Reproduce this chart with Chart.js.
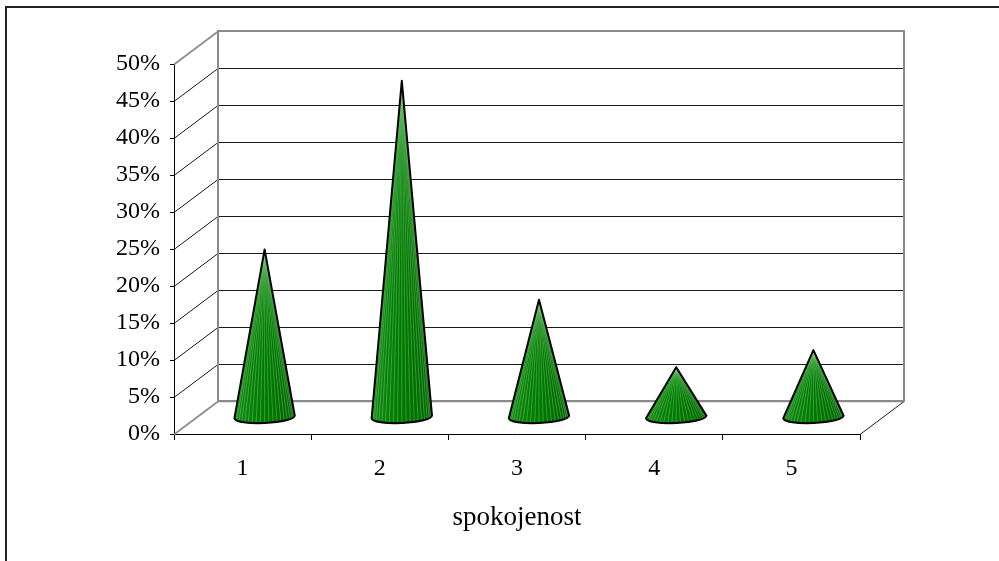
<!DOCTYPE html>
<html>
<head>
<meta charset="utf-8">
<script src="https://cdn.jsdelivr.net/npm/chart.js@4.4.1/dist/chart.umd.min.js"></script>
<style>
  html, body { margin: 0; padding: 0; background: #fff; }
  canvas { display: block; }
</style>
</head>
<body>
<canvas id="chart" width="999" height="561"></canvas>
<script>
// Satisfaction ratings (1 = best) and their share of answers, in percent
const categories = ['1', '2', '3', '4', '5'];
const shares = [22.7, 45.5, 15.9, 6.8, 9.1];
const axisMax = 50;
const axisStep = 5;
const axisTitle = 'spokojenost';

// Depth of the 3D box: offset from the front plane to the back wall
const DEPTH_X = 44;
const DEPTH_Y = -33;
const FONT = "'Liberation Serif', 'Times New Roman', serif";

function line(ctx, x1, y1, x2, y2) {
  ctx.beginPath();
  ctx.moveTo(x1, y1);
  ctx.lineTo(x2, y2);
  ctx.stroke();
}

// Outer chart border, running off the right and bottom edges
const borderPlugin = {
  id: 'outerBorder',
  beforeDraw(chart) {
    const ctx = chart.ctx;
    ctx.save();
    ctx.strokeStyle = '#222';
    ctx.lineWidth = 2;
    ctx.beginPath();
    ctx.moveTo(chart.width + 2, 7);
    ctx.lineTo(6, 7);
    ctx.lineTo(6, chart.height + 2);
    ctx.stroke();
    ctx.restore();
  }
};

// Back wall, side wall and floor of the 3D box
const boxPlugin = {
  id: 'box3d',
  beforeDatasetsDraw(chart) {
    const { ctx, chartArea: a, scales: { y } } = chart;
    const bl = a.left + DEPTH_X, br = a.right + DEPTH_X;
    const bTop = a.top + DEPTH_Y, bBottom = a.bottom + DEPTH_Y;
    ctx.save();
    ctx.lineCap = 'butt';

    // horizontal gridlines on the back wall and diagonals on the side wall
    y.ticks.forEach(t => {
      const py = Math.round(y.getPixelForValue(t.value)) + 0.5;
      const edge = t.value === 0 || t.value === axisMax;
      ctx.strokeStyle = edge ? '#8a8a8a' : '#1a1a1a';
      ctx.lineWidth = edge ? 1.6 : 1;
      if (t.value !== axisMax) line(ctx, bl, py + DEPTH_Y, br, py + DEPTH_Y);
      line(ctx, a.left, py, bl, py + DEPTH_Y);
    });

    // right floor edge
    ctx.strokeStyle = '#1a1a1a';
    ctx.lineWidth = 1;
    line(ctx, a.right, a.bottom + 0.5, br, bBottom + 0.5);

    // grey outline of the back wall
    ctx.strokeStyle = '#8a8a8a';
    ctx.lineWidth = 2;
    ctx.beginPath();
    ctx.moveTo(bl, bBottom);
    ctx.lineTo(bl, bTop);
    ctx.lineTo(br, bTop);
    ctx.lineTo(br, bBottom);
    ctx.lineTo(bl, bBottom);
    ctx.stroke();
    ctx.restore();
  }
};

function drawCone(ctx, cx, apexY, baseY, r) {
  const ry = r * 0.2;
  const tilt = -0.045;
  const shape = () => {
    ctx.beginPath();
    ctx.moveTo(cx - r, baseY + Math.sin(tilt) * -r);
    ctx.lineTo(cx, apexY);
    ctx.lineTo(cx + r, baseY + Math.sin(tilt) * r);
    ctx.ellipse(cx, baseY, r, ry, tilt, 0, Math.PI, false);
    ctx.closePath();
  };
  ctx.save();
  shape();
  const g = ctx.createLinearGradient(cx - r, 0, cx + r, 0);
  g.addColorStop(0, '#178a17');
  g.addColorStop(0.45, '#007c00');
  g.addColorStop(1, '#006400');
  ctx.fillStyle = g;
  ctx.fill();
  ctx.clip();
  // facet lines running up to the tip
  ctx.strokeStyle = 'rgba(150, 220, 150, 0.45)';
  ctx.lineWidth = 0.8;
  const n = 22;
  for (let k = 1; k < n; k++) {
    const th = Math.PI * k / n;
    const px = cx - r * Math.cos(th);
    const py = baseY + ry * Math.sin(th);
    line(ctx, cx, apexY, px, py);
  }
  ctx.restore();
  ctx.save();
  shape();
  ctx.strokeStyle = '#000';
  ctx.lineWidth = 2;
  ctx.lineJoin = 'round';
  ctx.stroke();
  ctx.restore();
}

// Cones placed halfway into the box depth, sized from the bar elements
const conePlugin = {
  id: 'cones',
  afterDatasetsDraw(chart) {
    const ctx = chart.ctx;
    const meta = chart.getDatasetMeta(0);
    meta.data.forEach(bar => {
      const { x, y, base, width } = bar.getProps(['x', 'y', 'base', 'width'], true);
      drawCone(ctx, x + DEPTH_X / 2, y + DEPTH_Y / 2, base + DEPTH_Y / 2, width / 2);
    });
  }
};

new Chart(document.getElementById('chart'), {
  type: 'bar',
  data: {
    labels: categories,
    datasets: [{
      data: shares,
      backgroundColor: 'rgba(0,0,0,0)',
      borderWidth: 0,
      categoryPercentage: 1,
      barPercentage: 0.44
    }]
  },
  options: {
    responsive: false,
    animation: false,
    devicePixelRatio: 1,
    layout: { padding: { left: 0, top: 64, right: 139, bottom: 0 } },
    plugins: { legend: { display: false }, tooltip: { enabled: false } },
    scales: {
      x: {
        type: 'category',
        afterFit(scale) { scale.height = 127; },
        grid: {
          offset: true,
          drawOnChartArea: false,
          drawTicks: true,
          tickLength: 6,
          color: '#000'
        },
        border: { display: true, color: '#000', width: 1 },
        ticks: { color: '#000', padding: 14, font: { family: FONT, size: 24 } },
        title: {
          display: true,
          text: axisTitle,
          color: '#000',
          font: { family: FONT, size: 27 },
          padding: { top: 0, bottom: 27 }
        }
      },
      y: {
        min: 0,
        max: axisMax,
        afterFit(scale) { scale.width = 174; },
        grid: {
          drawOnChartArea: false,
          drawTicks: true,
          tickLength: 4,
          color: '#000'
        },
        border: { display: true, color: '#000', width: 1 },
        ticks: {
          stepSize: axisStep,
          color: '#000',
          padding: 10,
          font: { family: FONT, size: 24 },
          callback: v => v + '%'
        }
      }
    }
  },
  plugins: [borderPlugin, boxPlugin, conePlugin]
});
</script>
</body>
</html>
